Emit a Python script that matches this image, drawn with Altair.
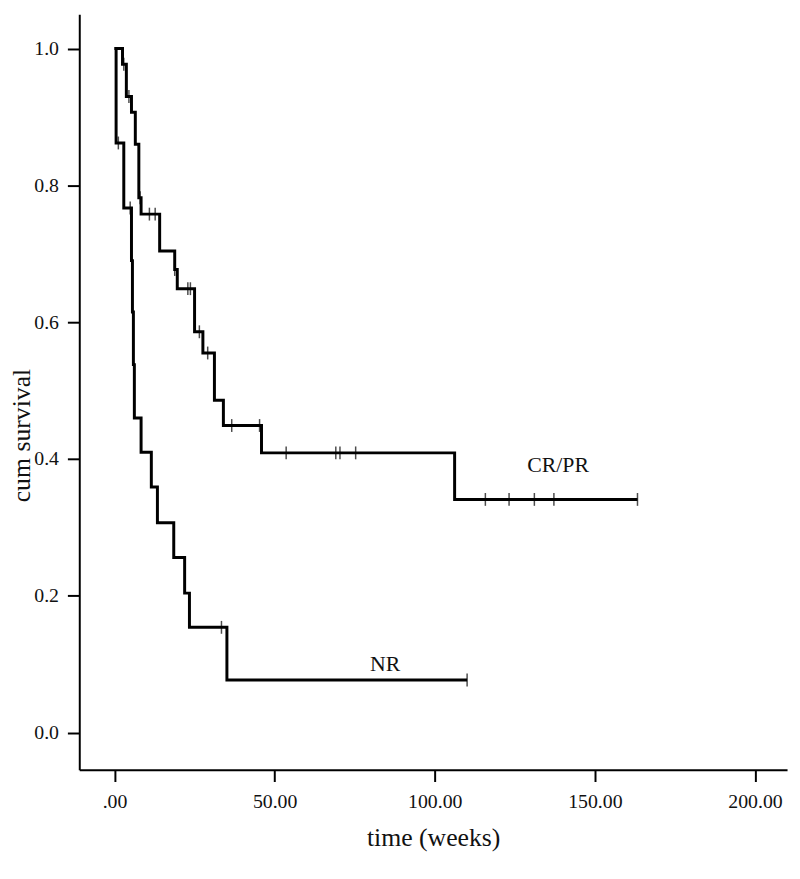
import altair as alt
import pandas as pd

# CR/PR group: step times (weeks) and survival after each step
cr_times = [0.0, 2.5, 3.7, 5.3, 6.5, 7.6, 8.3, 14.1, 18.8, 19.6, 25.0, 27.6, 31.2, 34.0, 45.9, 106.2, 163.3]
cr_surv  = [1.0, 0.977, 0.930, 0.907, 0.86, 0.782, 0.758, 0.704, 0.677, 0.649, 0.586, 0.555, 0.486, 0.449, 0.409, 0.341, 0.341]
cr_cens_t = [2.9, 4.5, 8.0, 10.9, 12.7, 18.8, 22.9, 23.7, 26.5, 29.1, 36.6, 45.3, 53.6, 69.1, 70.4, 75.3, 115.8, 123.2, 131.1, 137.2, 163.3]
cr_cens_s = [0.977, 0.930, 0.782, 0.758, 0.758, 0.677, 0.649, 0.649, 0.586, 0.555, 0.449, 0.449, 0.409, 0.409, 0.409, 0.409, 0.341, 0.341, 0.341, 0.341, 0.341]

# NR group
nr_times = [0.0, 0.5, 2.9, 5.3, 5.6, 5.9, 6.2, 8.3, 11.5, 13.4, 18.5, 21.9, 23.4, 35.1, 110.1]
nr_surv  = [1.0, 0.862, 0.767, 0.69, 0.615, 0.538, 0.460, 0.410, 0.359, 0.307, 0.256, 0.204, 0.154, 0.077, 0.077]
nr_cens_t = [1.2, 4.9, 33.4, 110.1]
nr_cens_s = [0.862, 0.767, 0.154, 0.077]

label_text = ["CR/PR", "NR"]
label_t = [138.5, 84.5]
label_s = [0.391, 0.101]

x_ticks = [0, 50, 100, 150, 200]
y_ticks = [0.0, 0.2, 0.4, 0.6, 0.8, 1.0]

curves = pd.concat([
    pd.DataFrame({"t": cr_times, "s": cr_surv, "g": "CR/PR"}),
    pd.DataFrame({"t": nr_times, "s": nr_surv, "g": "NR"}),
])
cens = pd.concat([
    pd.DataFrame({"t": cr_cens_t, "s": cr_cens_s, "g": "CR/PR"}),
    pd.DataFrame({"t": nr_cens_t, "s": nr_cens_s, "g": "NR"}),
])
labels = pd.DataFrame({"t": label_t, "s": label_s, "txt": label_text})

FONT = "Liberation Serif"
xscale = alt.Scale(domain=[-11, 210], nice=False, zero=False)
yscale = alt.Scale(domain=[-0.054, 1.05], nice=False, zero=False)

xaxis = alt.Axis(values=x_ticks, title="time (weeks)",
                 labelExpr="datum.value == 0 ? '.00' : format(datum.value, '.2f')",
                 labelPadding=10, titleY=69, titleBaseline="middle")
yaxis = alt.Axis(values=y_ticks, title="cum survival", format=".1f",
                 labelPadding=9, titleX=-58, titleY=425, titleAngle=270,
                 titleAlign="center", titleBaseline="middle")

lines = alt.Chart(curves).mark_line(interpolate="step-after", color="black", strokeWidth=3).encode(
    x=alt.X("t:Q", scale=xscale, axis=xaxis),
    y=alt.Y("s:Q", scale=yscale, axis=yaxis),
    detail="g:N",
)
ticks = alt.Chart(cens).mark_tick(orient="vertical", color="black", size=13, thickness=1.5).encode(
    x=alt.X("t:Q", scale=xscale),
    y=alt.Y("s:Q", scale=yscale),
)
texts = alt.Chart(labels).mark_text(font=FONT, fontSize=22, color="#111").encode(
    x=alt.X("t:Q", scale=xscale),
    y=alt.Y("s:Q", scale=yscale),
    text="txt:N",
)

chart = (lines + ticks + texts).properties(
    width=715, height=763,
    autosize="none",
    padding={"left": 72, "top": 2, "right": 5, "bottom": 100},
).configure_view(stroke=None).configure_axis(
    grid=False, domainColor="black", domainWidth=2, tickColor="black", tickWidth=2,
    tickSize=12, labelFont=FONT, labelFontSize=20, labelColor="#111",
    titleFont=FONT, titleFontSize=26, titleFontWeight="normal", titleColor="#111",
)

chart.save("out.html", embed_options={"renderer": "svg", "actions": False})
